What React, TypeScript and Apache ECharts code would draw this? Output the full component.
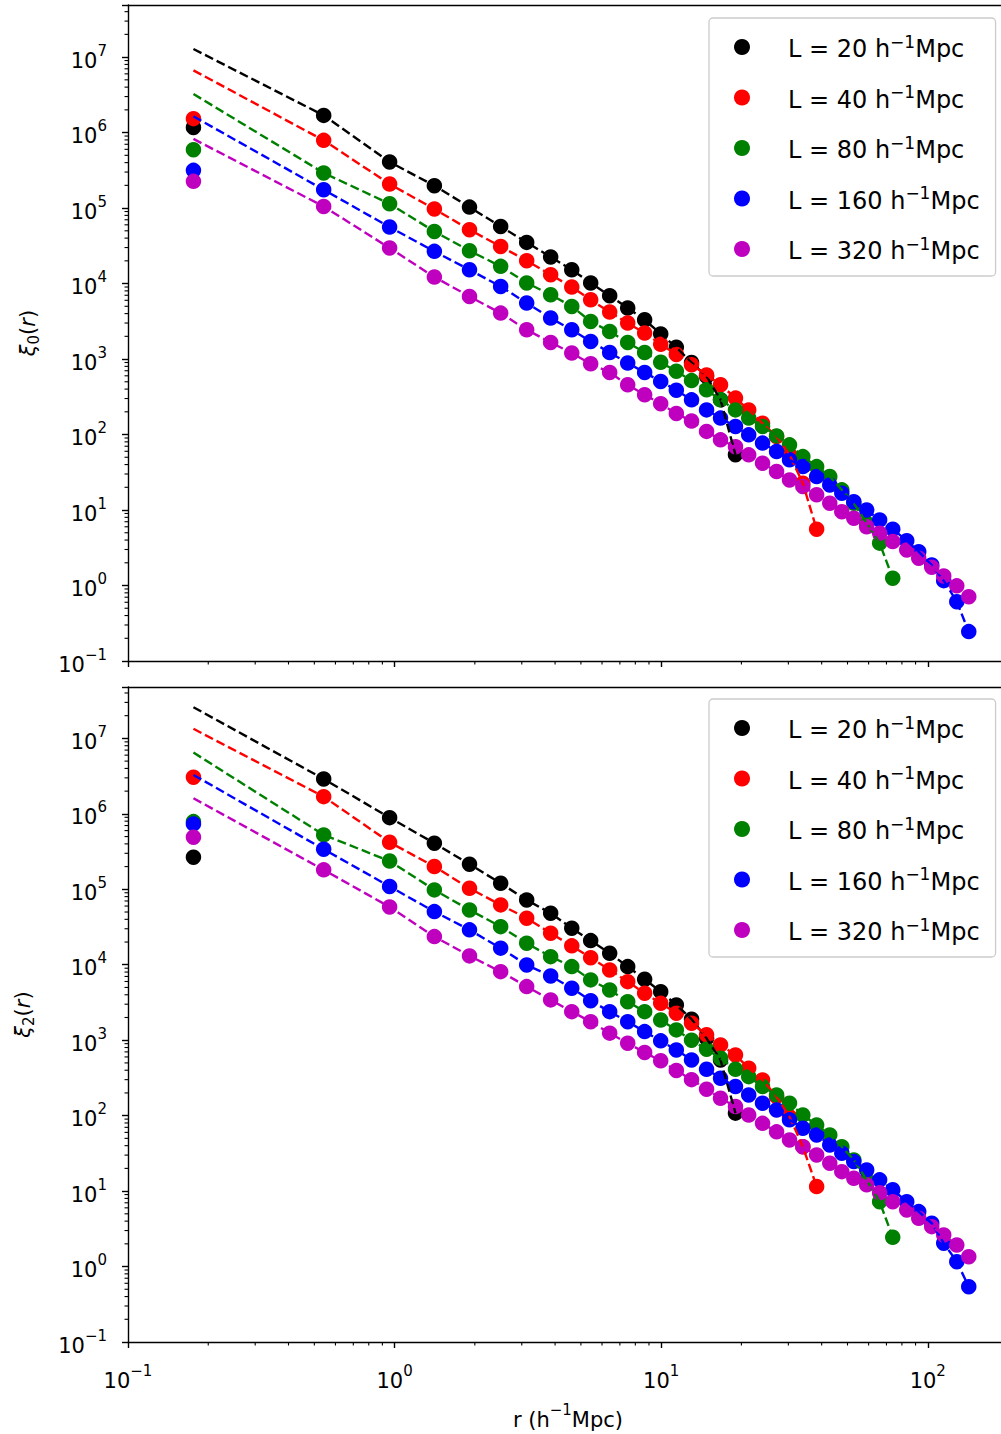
import React, { useEffect, useRef } from "react";
import * as echarts from "echarts";

// ---------------- data ----------------
const r = [0.176, 0.542, 0.958, 1.41, 1.91, 2.5, 3.13, 3.85, 4.62, 5.44, 6.41, 7.49, 8.67, 9.96, 11.4, 13.0, 14.8, 16.7, 19.0, 21.3, 24.0, 27.1, 30.3, 34.0, 38.3, 42.9, 47.6, 52.8, 59.0, 66.0, 73.9, 83.4, 92.5, 103.5, 114.8, 128.5, 142.5];

const boxNames = ["L = 20", "L = 40", "L = 80", "L = 160", "L = 320"];
const colors = ["#000000", "#ff0000", "#008000", "#0000ff", "#bf00bf"];

// monopole xi_0(r)
const xi0_L20 = [1.17e6, 1.69e6, 4.08e5, 1.98e5, 1.03e5, 5.71e4, 3.51e4, 2.25e4, 1.52e4, 1.02e4, 6.9e3, 4.74e3, 3.31e3, 2.15e3, 1.43e3, 900, 590, 290, 54];
const xi0_L40 = [1.53e6, 7.89e5, 2.08e5, 9.73e4, 5.17e4, 3.1e4, 2.01e4, 1.31e4, 8.99e3, 6.1e3, 4.19e3, 3.0e3, 2.21e3, 1.57e3, 1.15e3, 840, 617, 456, 304, 212, 141, 94, 54, 22.6, 5.57];
const xi0_L80 = [5.94e5, 2.92e5, 1.14e5, 4.9e4, 2.72e4, 1.69e4, 1.02e4, 7.1e3, 4.98e3, 3.15e3, 2.32e3, 1.66e3, 1.22e3, 905, 690, 518, 391, 288, 212, 165, 128, 96, 73, 51, 37.6, 27.8, 18.5, 12.3, 6.7, 3.64, 1.25];
const xi0_L160 = [3.16e5, 1.75e5, 5.6e4, 2.67e4, 1.52e4, 9.15e3, 5.52e3, 3.49e3, 2.44e3, 1.71e3, 1.22e3, 885, 665, 505, 387, 288, 212, 165, 128, 99, 77, 59.6, 46.2, 37.7, 27.8, 21.5, 16.7, 12.9, 10.0, 7.4, 5.57, 3.93, 2.81, 1.87, 1.16, 0.61, 0.245];
const xi0_L320 = [2.26e5, 1.05e5, 2.96e4, 1.22e4, 6.75e3, 4.06e3, 2.44e3, 1.66e3, 1.2e3, 865, 664, 456, 336, 256, 190, 151, 110, 85, 69, 53.8, 41.7, 32.3, 25, 20.5, 15.9, 12.3, 9.5, 7.8, 6.0, 4.92, 3.82, 2.96, 2.3, 1.75, 1.34, 0.99, 0.71];
// dashed model value at the first r
const xi0_modelFirst = [1.28e7, 6.68e6, 3.25e6, 1.64e6, 8.24e5];

// quadrupole xi_2(r)
const xi2_L20 = [2.66e5, 2.9e6, 8.91e5, 4.08e5, 2.15e5, 1.2e5, 7.23e4, 4.82e4, 3.05e4, 2.09e4, 1.42e4, 9.45e3, 6.42e3, 4.4e3, 2.93e3, 1.9e3, 1.06e3, 547, 108];
const xi2_L40 = [3.06e6, 1.69e6, 4.2e5, 2.0e5, 1.03e5, 6.21e4, 4.14e4, 2.62e4, 1.78e4, 1.24e4, 8.53e3, 5.97e3, 4.2e3, 3.09e3, 2.28e3, 1.68e3, 1.18e3, 865, 638, 425, 297, 179, 97, 38.8, 11.5];
const xi2_L80 = [7.89e5, 5.26e5, 2.37e5, 9.82e4, 5.33e4, 3.2e4, 1.93e4, 1.28e4, 9.45e3, 6.3e3, 4.63e3, 3.24e3, 2.39e3, 1.85e3, 1.37e3, 1.0e3, 759, 577, 412, 329, 243, 188, 146, 102, 75, 55.5, 38.8, 25.9, 14, 7.24, 2.44];
const xi2_L160 = [7.36e5, 3.4e5, 1.09e5, 5.06e4, 2.9e4, 1.66e4, 9.95e3, 7.11e3, 4.89e3, 3.34e3, 2.39e3, 1.76e3, 1.3e3, 980, 743, 547, 412, 313, 243, 188, 146, 119, 88, 68, 55.5, 40.9, 31.8, 24.6, 19.1, 14.1, 10.4, 7.24, 5.35, 3.75, 2.04, 1.16, 0.54];
const xi2_L320 = [4.9e5, 1.81e5, 5.83e4, 2.36e4, 1.31e4, 8.1e3, 5.13e3, 3.42e3, 2.39e3, 1.76e3, 1.24e3, 912, 688, 533, 397, 300, 224, 170, 132, 102, 79, 61, 47.6, 38.8, 30.1, 23.4, 18.1, 14.8, 12.1, 9.5, 7.24, 5.62, 4.36, 3.38, 2.62, 1.93, 1.35];
const xi2_modelFirst = [2.59e7, 1.34e7, 6.49e6, 3.28e6, 1.61e6];

// axis limits
const X_MIN = 0.1;
const X_MAX = 200;
const Y_MIN = 0.1;
const Y_MAX = [4.9e7, 4.8e7];

// ---------------- helpers ----------------
const FONT = "DejaVu Sans";
const lg = (v: number) => Math.log10(v);

const tickRich = {
  b: { fontFamily: FONT, fontSize: 21, color: "#000", lineHeight: 28, verticalAlign: "bottom" },
  s: { fontFamily: FONT, fontSize: 15, color: "#000", lineHeight: 16, verticalAlign: "top" },
};

const powLabel = (v: number) => {
  const n = Math.round(v);
  if (Math.abs(v - n) > 1e-6) return "";
  return `{b|10}{s|${n < 0 ? "\u2212" + -n : n}}`;
};

const legendRich = {
  f: { fontFamily: FONT, fontSize: 24, color: "#000", lineHeight: 28, verticalAlign: "bottom", padding: [0, 0, 0, 20] },
  a: { fontFamily: FONT, fontSize: 24, color: "#000", lineHeight: 28, verticalAlign: "bottom" },
  s: { fontFamily: FONT, fontSize: 17, color: "#000", lineHeight: 19, verticalAlign: "top" },
};

const nameRich = {
  a: { fontFamily: FONT, fontSize: 21, color: "#000", lineHeight: 28, verticalAlign: "bottom" },
  s: { fontFamily: FONT, fontSize: 15, color: "#000", lineHeight: 17, verticalAlign: "top" },
  i: { fontFamily: FONT, fontStyle: "italic", fontSize: 21, color: "#000", lineHeight: 24, verticalAlign: "top" },
  n: { fontFamily: FONT, fontSize: 21, color: "#000", lineHeight: 24, verticalAlign: "top" },
  sub: { fontFamily: FONT, fontSize: 15, color: "#000", lineHeight: 15, verticalAlign: "bottom" },
};

function minorValues(lo: number, hi: number) {
  const out: number[] = [];
  for (let n = Math.floor(lg(lo)); n <= Math.ceil(lg(hi)); n++) {
    for (let k = 2; k <= 9; k++) {
      const v = k * Math.pow(10, n);
      if (v > lo && v <= hi) out.push(v);
    }
  }
  return out;
}

function minorTickSeries(g: number, axis: "x" | "y", vals: number[]) {
  return {
    type: "custom",
    xAxisIndex: g,
    yAxisIndex: g,
    silent: true,
    clip: false,
    z: 10,
    data: vals.map((v) => (axis === "y" ? [lg(X_MIN), lg(v)] : [lg(v), lg(Y_MIN)])),
    renderItem: (_p: any, api: any) => {
      const p = api.coord([api.value(0), api.value(1)]);
      const shape =
        axis === "y"
          ? { x1: p[0] - 3.5, y1: p[1], x2: p[0], y2: p[1] }
          : { x1: p[0], y1: p[1], x2: p[0], y2: p[1] + 3.5 };
      return { type: "line", shape, style: { stroke: "#000", lineWidth: 1.1 } };
    },
  };
}

function buildOption() {
  const panels = [
    { sets: [xi0_L20, xi0_L40, xi0_L80, xi0_L160, xi0_L320], first: xi0_modelFirst, sub: "0" },
    { sets: [xi2_L20, xi2_L40, xi2_L80, xi2_L160, xi2_L320], first: xi2_modelFirst, sub: "2" },
  ];
  const grids = [
    { left: 128, top: 5, width: 880, height: 656 },
    { left: 128, top: 687, width: 880, height: 655 },
  ];
  const series: any[] = [];
  panels.forEach((pn, g) => {
    pn.sets.forEach((vals, i) => {
      series.push({
        type: "scatter",
        name: boxNames[i],
        xAxisIndex: g,
        yAxisIndex: g,
        z: 2,
        symbol: "circle",
        symbolSize: 15.5,
        itemStyle: { color: colors[i], opacity: 1 },
        data: vals.map((v, j) => [lg(r[j]), lg(v)]),
      });
    });
    pn.sets.forEach((vals, i) => {
      const lineData = [[lg(r[0]), lg(pn.first[i])]].concat(vals.slice(1).map((v, j) => [lg(r[j + 1]), lg(v)]));
      series.push({
        type: "line",
        name: "model " + boxNames[i] + " " + g,
        xAxisIndex: g,
        yAxisIndex: g,
        z: 3,
        silent: true,
        symbol: "none",
        showSymbol: false,
        lineStyle: { color: colors[i], width: 2.4, type: [9, 4] },
        data: lineData,
      });
    });
    series.push(minorTickSeries(g, "y", minorValues(Y_MIN, Y_MAX[g])));
    series.push(minorTickSeries(g, "x", minorValues(X_MIN, X_MAX)));
  });

  const axisLine = { show: true, onZero: false, lineStyle: { color: "#000", width: 1.4 } };
  const axisTick = { show: true, inside: false, length: 6, lineStyle: { color: "#000", width: 1.4 } };

  const bottomAxes = [0, 1].map((g) => ({
    type: "value",
    gridIndex: g,
    position: "bottom",
    min: lg(X_MIN),
    max: lg(X_MAX),
    interval: 1,
    axisLine,
    axisTick,
    splitLine: { show: false },
    axisLabel: { show: g === 1, margin: 21, formatter: powLabel, rich: tickRich },
    name: g === 1 ? "{a|r (h}{s|\u22121}{a|Mpc)}" : "",
    nameLocation: "middle",
    nameGap: 60,
    nameTextStyle: { rich: nameRich },
  }));
  // top spines
  const topAxes = [0, 1].map((g) => ({
    type: "value",
    gridIndex: g,
    position: "top",
    min: lg(X_MIN),
    max: lg(X_MAX),
    interval: 1,
    axisLine,
    axisTick: { show: false },
    axisLabel: { show: false },
    splitLine: { show: false },
  }));

  return {
    animation: false,
    backgroundColor: "#ffffff",
    grid: grids.map((gr) => ({
      ...gr,
      show: false,
      containLabel: false,
      outerBoundsMode: "none",
    })),
    xAxis: [...bottomAxes, ...topAxes],
    yAxis: [0, 1].map((g) => ({
      type: "value",
      gridIndex: g,
      min: lg(Y_MIN),
      max: lg(Y_MAX[g]),
      interval: 1,
      axisLine,
      axisTick,
      splitLine: { show: false },
      axisLabel: { show: true, margin: 21, formatter: powLabel, rich: tickRich },
      name: `{i|\u03be}{sub|${panels[g].sub}}{n|(}{i|r}{n|)}`,
      nameLocation: "middle",
      nameRotate: 90,
      nameGap: g === 0 ? 87 : 92,
      nameTextStyle: { rich: nameRich },
    })),
    legend: [0, 1].map((g) => ({
      show: true,
      orient: "vertical",
      left: 709,
      top: g === 0 ? 18 : 699,
      data: boxNames,
      icon: "circle",
      itemWidth: 42,
      itemHeight: 16,
      itemGap: 22.5,
      padding: [15, 16, 13, 25],
      backgroundColor: "rgba(255,255,255,0.8)",
      borderColor: "#cccccc",
      borderWidth: 1.3,
      borderRadius: 4,
      selectedMode: false,
      formatter: (name: string) => `{f|${name} h}{s|\u22121}{a|Mpc}`,
      textStyle: { rich: legendRich },
    })),
    series,
  };
}

export default function App() {
  const ref = useRef<HTMLDivElement>(null);
  useEffect(() => {
    document.body.style.margin = "0";
    const chart = echarts.init(ref.current as HTMLDivElement, null, { renderer: "svg" });
    chart.setOption(buildOption() as any);
    return () => chart.dispose();
  }, []);
  return <div ref={ref} style={{ position: "absolute", left: 0, top: 0, width: 1001, height: 1434 }} />;
}
